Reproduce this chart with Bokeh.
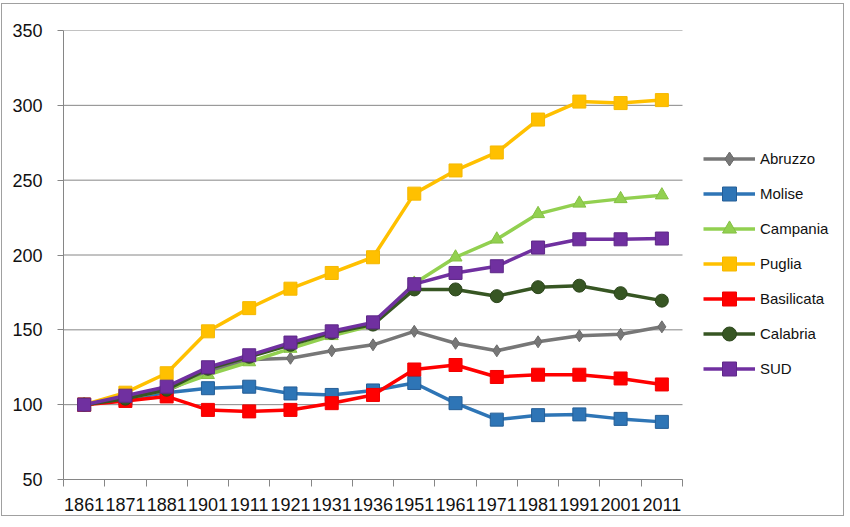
from bokeh.plotting import figure
from bokeh.models import FixedTicker, Legend, LegendItem, Range1d
from bokeh.embed import file_html
from bokeh.resources import INLINE

years = ["1861", "1871", "1881", "1901", "1911", "1921", "1931", "1936",
         "1951", "1961", "1971", "1981", "1991", "2001", "2011"]

abruzzo    = [100, 104, 109, 122, 130, 131, 136, 140, 149, 141, 136, 142, 146, 147, 152]
molise     = [100, 104, 108, 111, 112, 107.5, 106.5, 109.5, 114.5, 101, 90, 93, 93.5, 90.5, 88.5]
campania   = [100, 104, 110, 120, 128.5, 137.5, 146, 153, 181, 198.5, 210.5, 227.5, 234.5, 237.5, 240]
puglia     = [100, 108, 121, 149, 164.5, 177.5, 188, 198.5, 241, 256.5, 268.5, 290.5, 302.5, 301.5, 303.5]
basilicata = [100, 102.5, 105.5, 96.5, 95.5, 96.5, 101, 106.5, 123.5, 126.5, 118.5, 120, 120, 117.5, 113.5]
calabria   = [100, 104, 110, 124, 132, 140, 148, 153.5, 177, 177, 172.5, 178.5, 179.5, 174.5, 169.5]
sud        = [100, 106, 112, 125, 133, 141.5, 149, 155, 180.5, 188, 192.5, 205, 210.5, 210.5, 211]

y_ticks = [50, 100, 150, 200, 250, 300, 350]

series = [
    ("Abruzzo", abruzzo, "#777777", "#6a6a6a", "diamond", 12),
    ("Molise", molise, "#2e75b6", "#255e96", "square", 13),
    ("Campania", campania, "#92d050", "#84c043", "triangle", 13),
    ("Puglia", puglia, "#ffc000", "#f5b800", "square", 13),
    ("Basilicata", basilicata, "#ff0000", "#f00000", "square", 13),
    ("Calabria", calabria, "#375623", "#2c461c", "circle", 13),
    ("SUD", sud, "#7030a0", "#5e2888", "square", 13),
]

n = len(years)
x = list(range(n))

W, H = 843, 513
BL, BT, BB = 61, 26, 38
frame_w = W - BL
data_w = 619  # pixel width of the category area
x_end = -0.5 + n * frame_w / data_w

p = figure(width=W, height=H, output_backend="svg", toolbar_location=None,
           x_range=Range1d(-0.5, x_end), y_range=Range1d(50, 350),
           min_border_left=BL, min_border_top=BT, min_border_right=0,
           min_border_bottom=BB, margin=(3, 0, 0, 1),
           styles={"border": "1px solid #a0a0a0"})
p.outline_line_color = None
p.background_fill_color = "white"
p.border_fill_color = "white"

p.xgrid.visible = False
p.ygrid.visible = False
# horizontal gridlines limited to the category area
p.segment(x0=[-0.5] * len(y_ticks), x1=[n - 0.5] * len(y_ticks), y0=y_ticks, y1=y_ticks,
          line_color="#868686", line_width=1)

p.xaxis.bounds = (-0.5, n - 0.5)
p.xaxis.ticker = FixedTicker(ticks=x, minor_ticks=[i - 0.5 for i in range(n + 1)])
p.xaxis.major_label_overrides = {i: y for i, y in zip(x, years)}
p.xaxis.major_tick_out = 0
p.xaxis.major_tick_in = 0
p.xaxis.minor_tick_out = 7
p.xaxis.minor_tick_in = 0
p.xaxis.minor_tick_line_color = "#868686"
p.xaxis.axis_line_color = "#868686"
p.xaxis.major_label_text_font = "Liberation Sans"
p.xaxis.major_label_text_font_size = "18px"
p.xaxis.major_label_text_color = "#111111"
p.xaxis.major_label_standoff = 11

p.yaxis.ticker = FixedTicker(ticks=y_ticks)
p.yaxis.major_tick_out = 6
p.yaxis.major_tick_in = 0
p.yaxis.minor_tick_line_color = None
p.yaxis.major_tick_line_color = "#868686"
p.yaxis.axis_line_color = "#868686"
p.yaxis.major_label_text_font = "Liberation Sans"
p.yaxis.major_label_text_font_size = "18px"
p.yaxis.major_label_text_color = "#111111"
p.yaxis.major_label_standoff = 15

items = []
for name, vals, col, edge, mk, sz in series:
    ln = p.line(x, vals, line_color=col, line_width=3.5)
    sc = p.scatter(x, vals, marker=mk, size=sz, fill_color=col, line_color=edge)
    items.append(LegendItem(label=name, renderers=[ln, sc]))

legend = Legend(items=items, location=(640, 93), orientation="vertical",
                padding=0, margin=0, spacing=0, label_height=35, glyph_height=35,
                glyph_width=52, label_standoff=5, border_line_color=None,
                background_fill_alpha=0, label_text_font="Liberation Sans",
                label_text_font_size="15px", label_text_color="#111111")
p.add_layout(legend, "center")

open("out.html", "w").write(file_html(p, INLINE))
